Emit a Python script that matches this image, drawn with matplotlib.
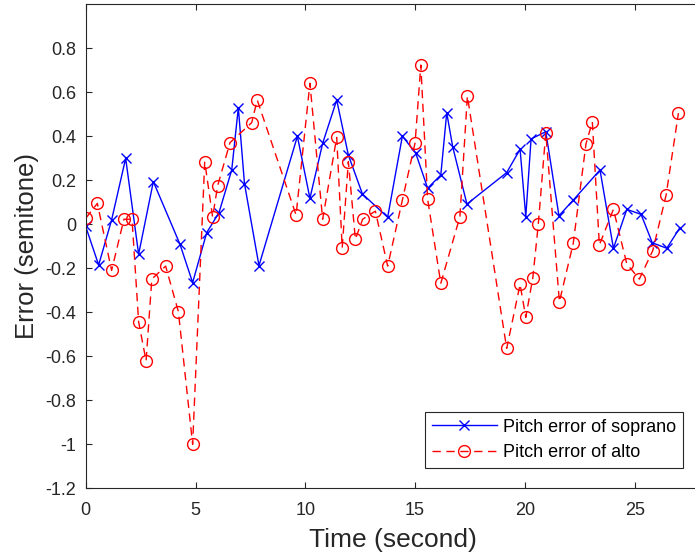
import matplotlib
matplotlib.use("Agg")
import matplotlib.pyplot as plt

plt.rcParams["font.family"] = ["Liberation Sans", "DejaVu Sans"]

# soprano pitch error (time in s, error in semitone)
sop_t = [0.00, 0.59, 1.18, 1.82, 2.41, 3.08, 4.29, 4.87, 5.51, 6.07, 6.65, 6.95,
         7.23, 7.89, 9.64, 10.21, 10.79, 11.43, 11.96, 12.60, 13.75, 14.42, 15.03,
         15.57, 16.17, 16.44, 16.71, 17.36, 19.17, 19.78, 20.04, 20.28, 20.95,
         21.55, 22.20, 23.42, 24.03, 24.64, 25.29, 25.80, 26.46, 27.06]
sop_err = [-0.01, -0.185, 0.02, 0.30, -0.136, 0.194, -0.09, -0.265, -0.038, 0.053,
           0.247, 0.53, 0.185, -0.188, 0.40, 0.118, 0.368, 0.565, 0.315, 0.138,
           0.032, 0.401, 0.323, 0.164, 0.224, 0.507, 0.353, 0.092, 0.235, 0.341,
           0.035, 0.388, 0.421, 0.039, 0.11, 0.247, -0.109, 0.068, 0.045, -0.084,
           -0.109, -0.015]

# alto pitch error
alto_t = [0.00, 0.53, 1.18, 1.74, 2.11, 2.41, 2.75, 3.01, 3.64, 4.22, 4.87, 5.42,
          5.78, 6.01, 6.57, 7.56, 7.81, 9.58, 10.21, 10.79, 11.43, 11.68, 11.96,
          12.28, 12.61, 13.19, 13.75, 14.42, 15.00, 15.26, 15.57, 16.17, 17.04,
          17.38, 19.17, 19.78, 20.04, 20.36, 20.61, 20.95, 21.57, 22.20, 22.78,
          23.07, 23.39, 24.03, 24.64, 25.21, 25.82, 26.43, 26.99]
alto_err = [0.027, 0.095, -0.21, 0.023, 0.023, -0.443, -0.621, -0.249, -0.19, -0.397,
            -1.0, 0.285, 0.033, 0.176, 0.371, 0.462, 0.565, 0.042, 0.641, 0.023,
            0.395, -0.106, 0.285, -0.068, 0.023, 0.06, -0.19, 0.11, 0.371, 0.724,
            0.114, -0.268, 0.035, 0.583, -0.564, -0.273, -0.423, -0.243, 0.001,
            0.416, -0.352, -0.087, 0.365, 0.466, -0.094, 0.068, -0.18, -0.249,
            -0.12, 0.133, 0.505]

x_ticks = [0, 5, 10, 15, 20, 25]
y_ticks = [-1.2, -1.0, -0.8, -0.6, -0.4, -0.2, 0, 0.2, 0.4, 0.6, 0.8]
y_labels = ["-1.2", "-1", "-0.8", "-0.6", "-0.4", "-0.2", "0", "0.2", "0.4", "0.6", "0.8"]

W, H = 695, 559
fig = plt.figure(figsize=(W / 100, H / 100), dpi=100)
left, right, top, bottom = 85.7, 700.6, 4.3, 488.3
ax = fig.add_axes([left / W, 1 - bottom / H, (right - left) / W, (bottom - top) / H])

ax.plot(sop_t, sop_err, color="blue", lw=1.0, marker="x", ms=7.5, mew=1.0,
        label="Pitch error of soprano")
ax.plot(alto_t, alto_err, color="red", lw=1.0, ls=(0, (6, 4)), marker="o", ms=8.5,
        mfc="none", mew=1.0, label="Pitch error of alto")

ax.set_xlim(0, 28)
ax.set_ylim(-1.2, 1.0)
ax.set_xticks(x_ticks)
ax.set_yticks(y_ticks)
ax.set_yticklabels(y_labels)

dark = "#262626"
for s in ax.spines.values():
    s.set_color(dark)
    s.set_linewidth(0.8)
ax.tick_params(direction="in", length=4.5, width=0.8, colors=dark, labelsize=13,
               top=True, right=True)
ax.tick_params(axis="x", pad=10)
ax.tick_params(axis="y", pad=7)
ax.set_xlabel("Time (second)", fontsize=19, color=dark, labelpad=6)
ax.set_ylabel("Error (semitone)", fontsize=18.5, color=dark, labelpad=4.5)

leg = ax.legend(loc="lower right", bbox_to_anchor=(1 - 17.6 / (right - left), 20.3 / (bottom - top)),
                fontsize=13, fancybox=False, framealpha=1, edgecolor=dark,
                borderaxespad=0, handlelength=3.6, borderpad=0.38, labelspacing=0.47,
                handletextpad=0.35)
leg.get_frame().set_linewidth(0.8)

fig.savefig("out.png", dpi=100)
